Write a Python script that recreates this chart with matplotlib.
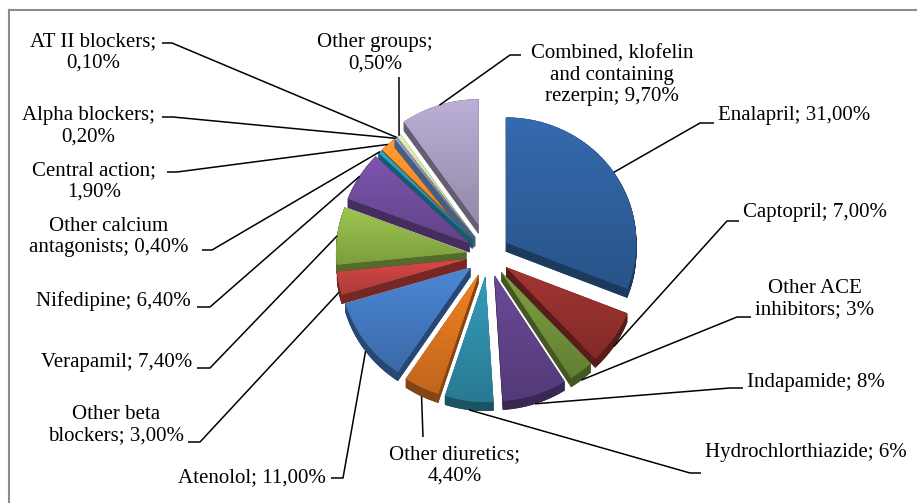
import numpy as np
import matplotlib.pyplot as plt
from matplotlib.patches import Polygon
from matplotlib.colors import to_rgb

# drug groups, clockwise from 12 o'clock
names = ['Enalapril', 'Captopril', 'Other ACE\ninhibitors', 'Indapamide',
         'Hydrochlorthiazide', 'Other diuretics', 'Atenolol',
         'Other beta\nblockers', 'Verapamil', 'Nifedipine',
         'Other calcium\nantagonists', 'Central action', 'Alpha blockers',
         'AT II blockers', 'Other groups',
         'Combined, klofelin\nand containing\nrezerpin']
shares = [31.0, 7.0, 3.0, 8.0, 6.0, 4.4, 11.0, 3.0, 7.4, 6.4, 0.4, 1.9, 0.2, 0.1, 0.5, 9.7]
decimals = [2, 2, 0, 0, 0, 2, 2, 2, 2, 2, 2, 2, 2, 2, 2, 2]
joiners = ['; ', '; ', '; ', '; ', '; ', ';\n', '; ', '; ', '; ', '; ', '; ',
           ';\n', ';\n', ';\n', ';\n', '; ']
colors = ['#2f5f9c', '#93302d', '#70903a', '#5f4288', '#2e8ba6', '#d9731f',
          '#4378bf', '#c0423f', '#8db247', '#6f4c9b', '#2596b8', '#f28b2a',
          '#7a9cd0', '#d08a88', '#c8dba2', '#a89cc0']

# label placement: text centre, leader elbow, leader tick end
text_pos = [(794, 115), (815, 213), (815, 299), (816, 382), (806, 453),
            (455, 465), (252, 478), (116, 425), (117, 362), (113, 301),
            (109, 237), (94, 181), (88, 126), (93, 52), (375, 53), (612, 75)]
elbows = [(700, 123), (727, 221), (737, 317), (730, 388), (690, 473),
          (423, 437), (343, 478), (200, 442), (210, 368), (210, 307),
          (212, 250), (177, 172), (173, 117), (172, 43), (399, 77), (510, 55)]
ticks = [(714, 123), (739, 221), (751, 317), (743, 388), (701, 473),
         (423, 437), (331, 478), (188, 442), (197, 368), (197, 307),
         (202, 250), (167, 172), (162, 117), (162, 43), (399, 77), (521, 55)]

cx, cy = 488, 255
rx, ry = 130, 125
depth = 9
explode = [22] * len(shares)
explode[-1] = 32

plt.rcParams['font.family'] = ['Liberation Serif', 'DejaVu Serif']

fig = plt.figure(figsize=(9.17, 5.03), dpi=100)
ax = fig.add_axes([0, 0, 1, 1])


def shade(c, f):
    r = np.array(to_rgb(c)) * f
    return np.clip(r, 0, 1)


total = sum(shares)
bounds = np.cumsum([0] + shares) / total * 360.0

slices = []
for i, v in enumerate(shares):
    a0, a1 = bounds[i], bounds[i + 1]
    mid = np.radians((a0 + a1) / 2)
    ox = cx + explode[i] * np.sin(mid)
    oy = cy - explode[i] * np.cos(mid)
    th = np.radians(np.linspace(a0, a1, max(int(a1 - a0) * 2, 3)))
    arc = np.column_stack([ox + rx * np.sin(th), oy - ry * np.cos(th)])
    top = np.vstack([[ox, oy], arc])
    end = (ox + rx * np.sin(mid), oy - ry * np.cos(mid))
    if np.cos(mid) < 0:
        end = (end[0], end[1] + depth)
    slices.append((i, top, end, top[:, 1].mean()))

# back slices first
for i, top, end, _ in sorted(slices, key=lambda s: s[3]):
    side_col = shade(colors[i], 0.6)
    low = top + [0, depth]
    ax.add_patch(Polygon(low, closed=True, fc=side_col, ec='none'))
    n = len(top)
    for k in range(n):
        p, q = top[k], top[(k + 1) % n]
        quad = [p, q, q + [0, depth], p + [0, depth]]
        ax.add_patch(Polygon(quad, closed=True, fc=side_col, ec=side_col, lw=0.3))
    face = Polygon(top, closed=True, fc=colors[i], ec='none')
    ax.add_patch(face)
    x0, y0 = top.min(axis=0)
    x1, y1 = top.max(axis=0)
    grad = np.linspace(1.12, 0.88, 64)[:, None, None] * np.array(to_rgb(colors[i]))[None, None, :]
    im = ax.imshow(np.clip(grad, 0, 1), extent=(x0, x1, y1, y0), origin='upper',
                   aspect='auto', interpolation='bilinear', zorder=1)
    im.set_clip_path(face)

# labels and leader lines
for i, top, end, _ in slices:
    d = decimals[i]
    val = f'{shares[i]:.{d}f}'.replace('.', ',')
    txt = names[i] + joiners[i] + val + '%'
    ax.text(text_pos[i][0], text_pos[i][1], txt, ha='center', va='center',
            fontsize=15, linespacing=1.17, color='black', zorder=5)
    xs = [end[0], elbows[i][0], ticks[i][0]]
    ys = [end[1], elbows[i][1], ticks[i][1]]
    ax.plot(xs, ys, color='black', lw=1.1, zorder=4, solid_capstyle='butt')

# chart frame
ax.plot([9, 917], [10, 10], color='#8c8c8c', lw=1.5, zorder=6)
ax.plot([9, 9], [10, 502], color='#8c8c8c', lw=1.5, zorder=6)

ax.set_xlim(0, 917)
ax.set_ylim(503, 0)
ax.axis('off')

fig.savefig('out.png', dpi=100, facecolor='white')
